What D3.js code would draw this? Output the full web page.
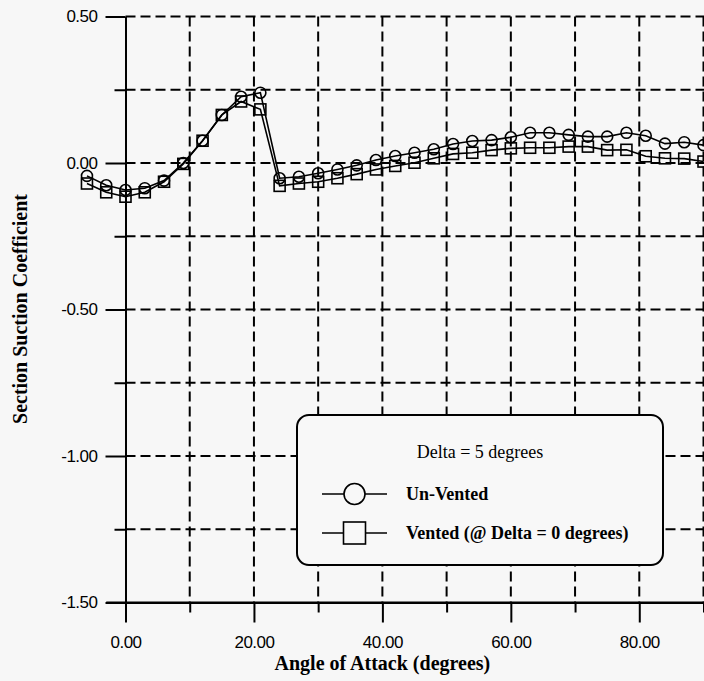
<html>
<head>
    <style>
        body { margin: 0; background: #f7f7f7; }
        text { fill: #000; }
    </style>
</head>
<body>
    <svg id="chart" width="704" height="681"></svg>
    <script src="https://d3js.org/d3.v7.min.js" charset="utf-8"></script>
    <script>
        // data
        let angles = [-6, -3, 0, 3, 6, 9, 12, 15, 18, 21, 24, 27, 30, 33, 36, 39, 42, 45, 48, 51, 54, 57, 60, 63, 66, 69, 72, 75, 78, 81, 84, 87, 90]
        let unVented = [-0.044, -0.076, -0.092, -0.086, -0.060, 0.000, 0.076, 0.164, 0.226, 0.240,
            -0.052, -0.047, -0.035, -0.022, -0.008, 0.010, 0.024, 0.035, 0.047, 0.065, 0.075, 0.078,
            0.088, 0.103, 0.103, 0.096, 0.090, 0.090, 0.103, 0.093, 0.066, 0.071, 0.061]
        let vented = [-0.070, -0.100, -0.115, -0.100, -0.064, -0.003, 0.076, 0.164, 0.210, 0.183,
            -0.078, -0.070, -0.064, -0.052, -0.038, -0.022, -0.010, 0.001, 0.016, 0.031, 0.035, 0.044,
            0.050, 0.052, 0.052, 0.056, 0.056, 0.044, 0.045, 0.023, 0.016, 0.015, 0.005]

        let xMajorTicks = [0, 20, 40, 60, 80]
        let xMinorTicks = [10, 30, 50, 70, 90]
        let xGridTicks = [10, 20, 30, 40, 50, 60, 70, 80, 90]
        let yMajorTicks = [0.5, 0, -0.5, -1, -1.5]
        let yMinorTicks = [0.25, -0.25, -0.75, -1.25]
        let yGridTicks = [0.5, 0.25, 0, -0.25, -0.5, -0.75, -1, -1.25]

        let legendTitle = "Delta = 5 degrees"
        let seriesNames = ["Un-Vented", "Vented (@ Delta = 0 degrees)"]

        let svg = d3.select("#chart")

        let x = d3.scaleLinear().domain([0, 90]).range([125.5, 703.5])
        let y = d3.scaleLinear().domain([-1.5, 0.5]).range([602.5, 16.5])

        let fmt = d3.formatLocale({ decimal: ".", thousands: ",", grouping: [3], currency: ["", ""], minus: "-" }).format(".2f")

        // dashed grid
        let grid = svg.append("g")
            .attr("stroke", "#000")
            .attr("stroke-width", 2)
            .attr("stroke-dasharray", "10,5")
        grid.selectAll(".h").data(yGridTicks).enter()
            .append("line")
            .attr("x1", x(0)).attr("x2", 704)
            .attr("y1", d => y(d)).attr("y2", d => y(d))
        grid.selectAll(".v").data(xGridTicks).enter()
            .append("line")
            .attr("x1", d => x(d)).attr("x2", d => x(d))
            .attr("y1", y(0.5)).attr("y2", y(-1.5))

        // y axis
        let yAxis = d3.axisLeft(y).tickValues(yMajorTicks).tickSize(20).tickSizeOuter(0).tickPadding(8).tickFormat(fmt)
        let yAxisG = svg.append("g")
            .attr("transform", `translate(${x(0)},0)`)
            .call(yAxis)
        let yMinor = d3.axisLeft(y).tickValues(yMinorTicks).tickSize(11).tickSizeOuter(0).tickFormat("")
        svg.append("g")
            .attr("transform", `translate(${x(0)},0)`)
            .call(yMinor)

        // x axis
        let xAxis = d3.axisBottom(x).tickValues(xMajorTicks).tickSize(20).tickSizeOuter(0).tickPadding(13).tickFormat(fmt)
        let xAxisG = svg.append("g")
            .attr("transform", `translate(0,${y(-1.5)})`)
            .call(xAxis)
        let xMinor = d3.axisBottom(x).tickValues(xMinorTicks).tickSize(10).tickSizeOuter(0).tickFormat("")
        svg.append("g")
            .attr("transform", `translate(0,${y(-1.5)})`)
            .call(xMinor)
        svg.append("line")
            .attr("x1", x(-3)).attr("x2", 704)
            .attr("y1", y(-1.5)).attr("y2", y(-1.5))
            .attr("stroke", "#000").attr("stroke-width", 2)

        svg.selectAll(".domain, .tick line").attr("stroke", "#000").attr("stroke-width", 2)
        svg.selectAll(".tick text")
            .style("font-family", "'Liberation Sans', Arial, sans-serif")
            .style("font-size", "17px")
            .style("letter-spacing", "-0.5px")
            .attr("fill", "#000")

        // axis titles
        svg.append("text")
            .attr("transform", "translate(27,309) rotate(-90)")
            .attr("text-anchor", "middle")
            .style("font-family", "'Liberation Serif', 'Times New Roman', serif")
            .style("font-weight", "bold")
            .style("font-size", "20px")
            .text("Section Suction Coefficient")
        svg.append("text")
            .attr("x", x(40)).attr("y", 670)
            .attr("text-anchor", "middle")
            .style("font-family", "'Liberation Serif', 'Times New Roman', serif")
            .style("font-weight", "bold")
            .style("font-size", "20px")
            .text("Angle of Attack (degrees)")

        // series
        let line = d3.line().x(d => x(d[0])).y(d => y(d[1]))
        let unData = angles.map((a, i) => [a, unVented[i]])
        let veData = angles.map((a, i) => [a, vented[i]])

        svg.append("path").datum(veData).attr("d", line)
            .attr("fill", "none").attr("stroke", "#000").attr("stroke-width", 1.6)
        svg.append("path").datum(unData).attr("d", line)
            .attr("fill", "none").attr("stroke", "#000").attr("stroke-width", 1.6)

        svg.selectAll(".sq").data(veData).enter()
            .append("rect")
            .attr("x", d => x(d[0]) - 5.5).attr("y", d => y(d[1]) - 5.5)
            .attr("width", 11).attr("height", 11)
            .attr("fill", "none").attr("stroke", "#000").attr("stroke-width", 1.6)
        svg.selectAll(".ci").data(unData).enter()
            .append("circle")
            .attr("cx", d => x(d[0])).attr("cy", d => y(d[1]))
            .attr("r", 5.5)
            .attr("fill", "none").attr("stroke", "#000").attr("stroke-width", 1.6)

        // legend
        let legend = svg.append("g")
        legend.append("rect")
            .attr("x", 297).attr("y", 415).attr("width", 366).attr("height", 150)
            .attr("rx", 12).attr("ry", 12)
            .attr("fill", "#f8f8f8").attr("stroke", "#000").attr("stroke-width", 2)
        legend.append("text")
            .attr("x", 480).attr("y", 452)
            .attr("text-anchor", "middle").attr("dominant-baseline", "central")
            .style("font-family", "'Liberation Serif', 'Times New Roman', serif")
            .style("font-size", "18px")
            .text(legendTitle)

        let rows = legend.selectAll(".row").data(seriesNames).enter()
            .append("g")
            .attr("transform", (d, i) => `translate(0,${[494, 533][i]})`)
        rows.append("line")
            .attr("x1", 322).attr("x2", 387)
            .attr("stroke", "#000").attr("stroke-width", 1.6)
        rows.filter((d, i) => i == 0).append("circle")
            .attr("cx", 354.5).attr("r", 10.5)
            .attr("fill", "#f8f8f8").attr("stroke", "#000").attr("stroke-width", 1.6)
        rows.filter((d, i) => i == 1).append("rect")
            .attr("x", 343.5).attr("y", -11).attr("width", 22).attr("height", 22)
            .attr("fill", "#f8f8f8").attr("stroke", "#000").attr("stroke-width", 1.6)
        rows.append("text")
            .attr("x", 406)
            .attr("dominant-baseline", "central")
            .style("font-family", "'Liberation Serif', 'Times New Roman', serif")
            .style("font-weight", "bold")
            .style("font-size", "18px")
            .text(d => d)
    </script>
</body>
</html>
